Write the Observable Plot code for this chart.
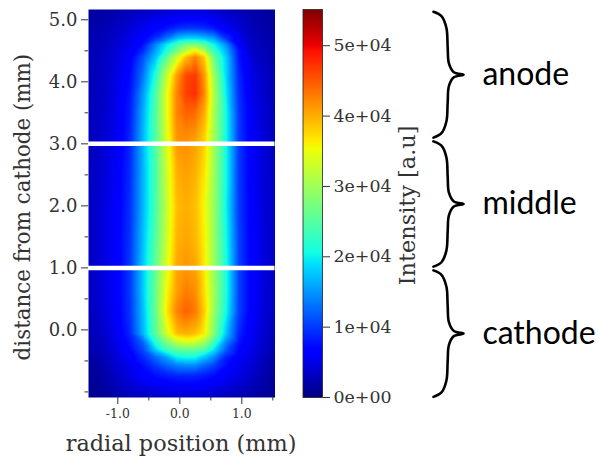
<!DOCTYPE html>
<html>
<head>
<meta charset="utf-8">
<script src="https://cdn.jsdelivr.net/npm/d3@7"></script>
<script src="https://cdn.jsdelivr.net/npm/@observablehq/plot@0.6"></script>
<style>
html,body{margin:0;padding:0;background:#fff;}
#chart{position:relative;width:598px;height:458px;overflow:hidden;}
#chart svg{position:absolute;left:0;top:0;}
</style>
</head>
<body>
<div id="chart"></div>
<script>
const radial = [-1.47,-1.2,-1,-0.8,-0.6,-0.4,-0.2,-0.05,0.1,0.25,0.4,0.55,0.75,0.95,1.15,1.35,1.53];
const distance = [5.17,5.02,4.86,4.7,4.6,4.5,4.4,4.1,3.8,3.5,3.1,2.6,2.0,1.5,1.0,0.6,0.3,-0.06,-0.2,-0.33,-0.44,-0.57,-0.74,-0.93,-1.09];
const intensity = [
 [1500,1800,2300,2800,3200,3500,3800,4000,4200,4200,4000,3600,3000,2500,2000,1600,1300],
 [1700,2200,2800,3500,4300,5000,5500,6000,6200,6200,6000,5400,4500,3500,2500,1900,1500],
 [2000,2600,3300,4300,5300,6500,8000,9200,9800,9800,9300,8200,5800,4200,2800,2100,1700],
 [2200,2800,3800,5000,6500,9500,13500,17000,18500,18500,17500,15500,9500,5500,3300,2400,1900],
 [2300,3000,4000,5200,7500,14000,20000,23500,27000,27500,25500,20500,14500,6000,3500,2500,2000],
 [2400,3200,4300,5800,9000,15500,22000,27000,32000,36000,31000,23000,16500,8000,3800,2700,2100],
 [2400,3300,4500,6200,11000,17000,26000,33000,39000,42500,38000,26500,18000,8000,4200,2900,2200],
 [2500,3500,5000,7300,13000,21500,33000,41000,46000,47000,41000,30000,18500,9000,5000,3500,2500],
 [2600,3600,5200,8000,15000,24000,35000,42500,46500,47500,42000,31000,19500,9500,5300,3700,2600],
 [2700,3800,5500,8500,16000,24500,35000,42500,44500,44000,40000,30500,20500,10000,5800,4000,2800],
 [2800,4000,5700,9000,16500,24500,34500,41500,42000,41000,38000,30000,20500,10000,6000,4200,3000],
 [2900,4300,6000,9300,16500,24000,33500,40000,41000,40000,37000,30000,20500,10000,6200,4300,3200],
 [3000,4700,6300,9500,16500,24000,33000,39000,40000,39000,35500,29500,20000,10000,6300,4400,3300],
 [3000,4700,6500,9800,17000,24500,33500,39500,40500,39500,36000,29500,20500,10500,6500,4500,3300],
 [3000,4700,6500,10000,17500,25500,34500,40500,41500,40500,36500,29500,21000,10500,6500,4500,3300],
 [3000,4700,6500,10000,17500,26000,36000,41000,43000,42000,37000,30000,21000,10500,6500,4500,3200],
 [2800,4500,6300,9800,17000,26000,37000,42500,44500,43000,38000,29500,20500,10500,6300,4300,3000],
 [2300,3800,5800,9000,16500,25000,34000,39000,40000,39000,36000,28000,17500,9000,5800,4000,2500],
 [2100,3500,5300,8000,12000,21500,28000,32000,33500,33000,30000,23500,14000,8000,5400,3700,2300],
 [1900,3200,5000,7000,10500,17500,23000,25000,25500,25500,24000,19000,11500,7000,5000,3400,2100],
 [1500,2800,4500,6000,9000,12500,16000,20000,21000,20500,17500,14500,8500,6000,4700,3000,1800],
 [1300,2500,4000,5400,7500,10000,12500,14000,14500,14500,12500,10500,7500,5400,4200,2700,1600],
 [1100,2100,3500,4800,6300,7500,8300,8700,8800,8700,8200,7300,6000,4800,3600,2300,1300],
 [900,1700,2900,3800,4600,5200,5700,6000,6000,5900,5600,5100,4400,3600,2800,1900,1000],
 [600,1100,1800,2300,2700,3100,3400,3500,3500,3500,3300,3000,2500,2100,1700,1100,700]
];
const xTicks = [-1,0,1];
const xMinor = [-0.5,0.5,1.5];
const yTicks = [0,1,2,3,4,5];
const yMinor = [-1,-0.5,0.5,1.5,2.5,3.5,4.5];
const cutLines = [1,3];
const barTicks = [0,10000,20000,30000,40000,50000];
const barTickLabels = ["0e+00","1e+04","2e+04","3e+04","4e+04","5e+04"];
const intensityMax = 55150;
const jetStops = [0,.11,.125,.34,.35,.375,.64,.65,.66,.89,.91,1];
const jetColors = ["#00007f","#0000ff","#0000ff","#00dbff","#00e6f7","#14ffe2","#eeff08","#f7f600","#ffec00","#ff1300","#e80000","#7f0000"];
const regionNames = ["anode","middle","cathode"];
const regionLabelY = [4.12,2.04,-0.06];
const regionTop = [5.13,3.04,0.96];
const regionBottom = [3.10,1.02,-1.08];

const grid = distance.flatMap((d,i)=>radial.map((r,j)=>({r,d,v:intensity[i][j]})));
const colorScale = {type:"linear",domain:jetStops.map(s=>s*intensityMax),range:jetColors,clamp:true};
const serif = "DejaVu Serif";
const ink = "#333";
const hyphenFormat = d=>d3.format(".1f")(d).replace("\u2212","-");

function brace(top,bottom){
  const mid=(top+bottom)/2, h=top-bottom;
  return [
    {x:4.09,y:top},{x:4.22,y:top-0.035*h},{x:4.30,y:top-0.13*h},
    {x:4.32,y:top-0.28*h},{x:4.34,y:mid+0.09*h},{x:4.42,y:mid+0.02*h},{x:4.576,y:mid},
    {x:4.42,y:mid-0.02*h},{x:4.34,y:mid-0.09*h},{x:4.32,y:bottom+0.28*h},
    {x:4.30,y:bottom+0.13*h},{x:4.22,y:bottom+0.035*h},{x:4.09,y:bottom}
  ];
}

const main = Plot.plot({
  width:598,height:458,
  marginLeft:88,marginRight:323.5,marginTop:9,marginBottom:61,
  x:{domain:[-1.473,1.535]},
  y:{domain:[-1.09,5.166]},
  color:colorScale,
  marks:[
    Plot.raster(grid,{x:"r",y:"d",fill:"v",interpolate:"barycentric",pixelSize:1}),
    Plot.ruleY(cutLines,{stroke:"white",strokeWidth:4.5}),
    Plot.axisX({ticks:xTicks,tickFormat:hyphenFormat,tickSize:7,tickPadding:5,fontSize:12.4,fontFamily:serif,stroke:ink,color:ink,label:null}),
    Plot.axisX({ticks:xMinor,text:null,tickSize:3.5,stroke:ink,label:null}),
    Plot.axisY({ticks:yTicks,tickFormat:hyphenFormat,tickSize:7,tickPadding:4,fontSize:18,fontFamily:serif,stroke:ink,color:ink,label:null}),
    Plot.axisY({ticks:yMinor,text:null,tickSize:3.5,stroke:ink,label:null}),
    Plot.text(["radial position (mm)"],{x:0.02,y:-1.09,dy:46,fontSize:22.4,fontFamily:serif,fill:ink}),
    Plot.text(["distance from cathode (mm)"],{x:-2.52,y:1.98,rotate:-90,fontSize:21.4,fontFamily:serif,fill:ink}),
    ...regionNames.map((n,i)=>Plot.line(brace(regionTop[i],regionBottom[i]),{x:"x",y:"y",curve:"catmull-rom",stroke:"#000",strokeWidth:2.6})),
    Plot.text(regionNames,{x:()=>4.88,y:(d,i)=>regionLabelY[i],text:d=>d,textAnchor:"start",fontSize:32,fontFamily:"Lato",fill:"#000"})
  ]
});

const bar = Plot.plot({
  width:598,height:458,
  marginLeft:302.5,marginRight:276,marginTop:9,marginBottom:61,
  style:{background:"transparent"},
  x:{domain:[0,1],axis:null},
  y:{domain:[0,intensityMax]},
  color:colorScale,
  marks:[
    Plot.raster({x1:0,x2:1,y1:0,y2:intensityMax,fill:(x,y)=>y,pixelSize:1}),
    Plot.frame({stroke:"#222",strokeWidth:0.8}),
    Plot.axisY({anchor:"right",ticks:barTicks,tickFormat:(d,i)=>barTickLabels[i],tickSize:7,tickPadding:4,fontSize:17.4,fontFamily:serif,stroke:ink,color:ink,label:null}),
    Plot.text(["Intensity [a.u]"],{x:1,y:27300,dx:85,rotate:-90,fontSize:22.4,fontFamily:serif,fill:ink})
  ]
});
const root=document.getElementById("chart");
root.append(main,bar);
</script>
</body>
</html>
